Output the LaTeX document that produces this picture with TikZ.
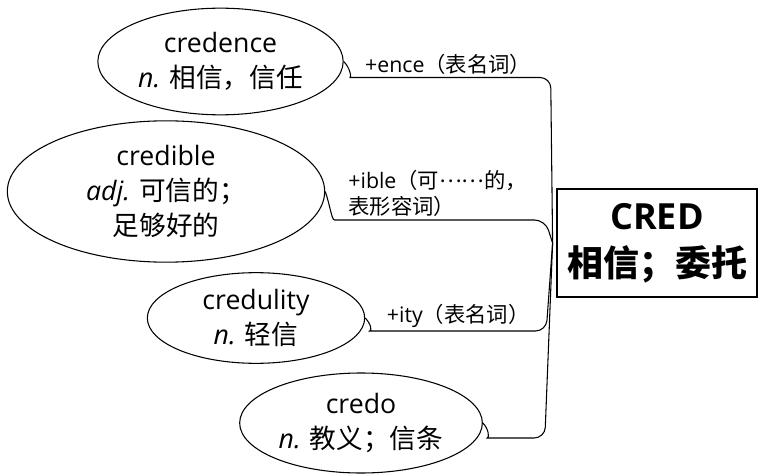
\documentclass[tikz,border=0pt]{standalone}
\usepackage{fontspec}
\setmainfont{Open Sans}
\newfontfamily\zhfont{Noto Sans CJK SC}
\newcommand{\zh}[1]{{\zhfont #1}}
\newcommand{\middots}{\raisebox{0.3em}{\zh{……}}}
\usetikzlibrary{shapes.geometric}

\tikzset{
  word/.style={ellipse, draw, line width=0.8pt, inner sep=0pt, align=center,
    font=\fontsize{20}{26}\selectfont},
  root/.style={draw, line width=1.6pt, inner sep=0pt, align=center,
    minimum width=150pt, minimum height=81pt,
    font=\bfseries\fontsize{27}{35}\selectfont},
  branch/.style={line width=0.8pt, rounded corners=8pt},
  affix/.style={font=\fontsize{16}{19.5}\selectfont, inner sep=2pt}
}

\begin{document}
\begin{tikzpicture}[x=0.75pt, y=-0.75pt]
        \useasboundingbox (0,0) rectangle (760,474);
        % root word
        \node[root] (cred) at (657,243) {CRED\\\zh{相信；委托}};
        \coordinate (hub) at ([xshift=-2.5pt]cred.west);
        % derived words
        \node[word, minimum width=184pt, minimum height=80pt] (credence) at (220.5,61.5)
        {credence\\\textit{n.} \zh{相信，信任}};
        \node[word, minimum width=238pt, minimum height=106pt] (credible) at (166,191.5)
        {credible\\\textit{adj.} \zh{可信的；}\\\zh{足够好的}};
        \node[word, minimum width=163pt, minimum height=68pt] (credulity) at (256,318)
        {credulity\\\textit{n.} \zh{轻信}};
        \node[word, minimum width=182pt, minimum height=75pt] (credo) at (361,423)
        {credo\\\textit{n.} \zh{教义；信条}};
        % branches
        \draw[branch] (credence.east) to[out=-45,in=180] ++(17,16) -- ++(190,0)
        node[affix, pos=0.46, above]{+ence\zh{（表名词）}} -- (hub);
        \draw[branch] (credible.east) to[out=-70,in=180] ++(20,28.5) -- ++(200,0)
        node[affix, pos=0, anchor=south west, align=left]{+ible\zh{（可}\middots\zh{的，}\\\zh{表形容词）}} -- (hub);
        \draw[branch] (credulity.east) to[out=-45,in=180] ++(15,13) -- ++(166,0)
        node[affix, pos=0.47, above]{+ity\zh{（表名词）}} -- (hub);
        \draw[branch] (credo.east) to[out=-45,in=180] ++(15,15) -- ++(47,0) -- (hub);
    \end{tikzpicture}
\end{document}
